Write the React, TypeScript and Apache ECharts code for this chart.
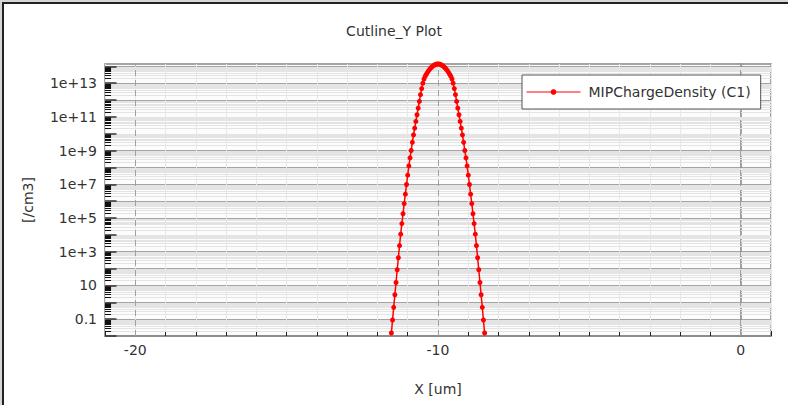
import React, { useEffect, useRef } from 'react';
import * as echarts from 'echarts';

// x positions of the sampled points [um]
const xValues: number[] = [
  -11.540, -11.502, -11.463, -11.425, -11.386, -11.348, -11.309, -11.271, -11.232, -11.194,
  -11.155, -11.117, -11.078, -11.040, -11.001, -10.963, -10.924, -10.886, -10.847, -10.809,
  -10.770, -10.732, -10.693, -10.655, -10.616, -10.578, -10.539, -10.501, -10.462, -10.424,
  -10.385, -10.347, -10.308, -10.270, -10.231, -10.193, -10.154, -10.116, -10.077, -10.039,
  -10.000,
  -9.962, -9.923, -9.885, -9.846, -9.808, -9.769, -9.731, -9.692, -9.654, -9.615,
  -9.577, -9.538, -9.500, -9.461, -9.423, -9.384, -9.346, -9.307, -9.269, -9.230,
  -9.192, -9.153, -9.115, -9.076, -9.038, -8.999, -8.961, -8.922, -8.884, -8.845,
  -8.807, -8.768, -8.730, -8.691, -8.653, -8.614, -8.576, -8.537, -8.499, -8.460,
];

// MIPChargeDensity (C1) values [/cm3]
const yValues: number[] = [
  0.015, 0.089, 0.5, 2.8, 15, 85, 440, 2300, 1.1e4, 4.7e4,
  1.8e5, 7.2e5, 2.6e6, 9.8e6, 3.5e7, 1.23e8, 3.7e8, 1.02e9, 3.1e9, 8.5e9,
  2.14e10, 5.4e10, 1.35e11, 3.3e11, 8.3e11, 2.09e12, 4.8e12, 1.0e13, 1.78e13, 2.63e13,
  3.4e13, 4.4e13, 5.6e13, 6.9e13, 8.3e13, 9.7e13, 1.1e14, 1.21e14, 1.31e14, 1.36e14,
  1.38e14,
  1.36e14, 1.31e14, 1.21e14, 1.1e14, 9.7e13, 8.3e13, 6.9e13, 5.6e13, 4.4e13, 3.4e13,
  2.63e13, 1.78e13, 1.0e13, 4.8e12, 2.09e12, 8.3e11, 3.3e11, 1.35e11, 5.4e10, 2.14e10,
  8.5e9, 3.1e9, 1.02e9, 3.7e8, 1.23e8, 3.5e7, 9.8e6, 2.6e6, 7.2e5, 1.8e5,
  4.7e4, 1.1e4, 2300, 440, 85, 15, 2.8, 0.5, 0.089, 0.015,
];

const seriesName = 'MIPChargeDensity (C1)';
const xLabelValues: number[] = [-20, -10, 0];
const yLabelValues: number[] = [0.1, 10, 1e3, 1e5, 1e7, 1e9, 1e11, 1e13];
const yLabelTexts: string[] = ['0.1', '10', '1e+3', '1e+5', '1e+7', '1e+9', '1e+11', '1e+13'];

const X_MIN = -21;
const X_MAX = 1;
const Y_MIN = 0.01;
const Y_MAX = 1.38e14;

const decadeExponents: number[] = [-2, -1, 0, 1, 2, 3, 4, 5, 6, 7, 8, 9, 10, 11, 12, 13];
const minorMultipliers: number[] = [2, 3, 4, 5, 6, 7, 8, 9];
const majorDecades: number[] = [0.01, 0.1, 1, 10, 100, 1e3, 1e4, 1e5, 1e6, 1e7, 1e8, 1e9, 1e10, 1e11, 1e12, 1e13, 1e14];

export default function App() {
  const ref = useRef<HTMLDivElement>(null);
  useEffect(() => {
    if (!ref.current) return;
    const chart = echarts.init(ref.current, null, { renderer: 'svg' });

    const minorValues: number[] = [];
    decadeExponents.forEach((e) => {
      minorMultipliers.forEach((m) => {
        const v = m * Math.pow(10, e);
        if (v < Y_MAX) minorValues.push(v);
      });
    });

    const minorGridLines = minorValues.map((v) => ({ yAxis: v }));
    const minorTickSegs = minorValues.map((v) => [
      { coord: [X_MIN, v] },
      { coord: [X_MIN + 0.2, v] },
    ]);
    const majorTickSegs = majorDecades.filter((v) => v <= Y_MAX).map((v) => [
      { coord: [X_MIN, v] },
      { coord: [X_MIN + 0.38, v] },
    ]);

    const option: any = {
      animation: false,
      textStyle: { fontFamily: 'DejaVu Sans' },
      title: {
        text: 'Cutline_Y Plot',
        left: 'center',
        top: 19,
        textStyle: { fontSize: 14, fontWeight: 'normal', color: '#333', fontFamily: 'DejaVu Sans' },
      },
      legend: {
        data: [seriesName],
        left: 522,
        top: 75,
        padding: [10, 10, 10, 4],
        itemWidth: 54,
        itemHeight: 7,
        backgroundColor: '#fff',
        borderColor: '#555',
        borderWidth: 1,
        borderRadius: 0,
        lineStyle: { width: 1 },
        textStyle: { fontSize: 14, color: '#333', fontFamily: 'DejaVu Sans', padding: [0, 0, 0, 3] },
      },
      grid: {
        left: 105,
        right: 17,
        top: 64,
        bottom: 69,
        show: true,
        borderColor: '#858585',
        borderWidth: 1.5,
        backgroundColor: '#fcfcfc',
      },
      xAxis: {
        type: 'value',
        min: X_MIN,
        max: X_MAX,
        interval: 1,
        name: 'X [um]',
        nameLocation: 'middle',
        nameGap: 46,
        nameTextStyle: { fontSize: 14, color: '#333' },
        axisLine: { show: true, lineStyle: { color: '#858585', width: 1.5 } },
        axisTick: { show: true, inside: true, length: 5, lineStyle: { color: '#222' } },
        axisLabel: {
          fontSize: 14,
          color: '#333',
          margin: 7,
          showMinLabel: true,
          showMaxLabel: true,
          formatter: (v: number) => (xLabelValues.some((t) => Math.abs(t - v) < 1e-9) ? String(v) : ''),
        },
        splitLine: { show: true, lineStyle: { color: '#e8e8e8', width: 1 } },
      },
      yAxis: {
        type: 'log',
        logBase: 10,
        min: Y_MIN,
        max: Y_MAX,
        interval: 1,
        name: '[/cm3]',
        nameLocation: 'middle',
        nameGap: 70,
        nameTextStyle: { fontSize: 14, color: '#333' },
        axisLine: { show: true, lineStyle: { color: '#858585', width: 1.5 } },
        axisTick: { show: false },
        axisLabel: {
          fontSize: 14,
          color: '#333',
          margin: 8,
          formatter: (v: number) => {
            const idx = yLabelValues.findIndex((t) => Math.abs(Math.log10(t) - Math.log10(v)) < 1e-6);
            return idx >= 0 ? yLabelTexts[idx] : '';
          },
        },
        splitLine: { show: true, lineStyle: { color: '#a4a4a4', width: 1.2 } },
      },
      series: [
        {
          name: 'grid-decor',
          type: 'line',
          data: [],
          z: 1,
          silent: true,
          markLine: {
            silent: true,
            z: 1,
            symbol: ['none', 'none'],
            label: { show: false },
            emphasis: { disabled: true },
            animation: false,
            lineStyle: { color: '#e4e4e4', width: 1, type: 'solid' },
            data: [
              ...minorGridLines,
              ...xLabelValues.map((v) => ({ xAxis: v, lineStyle: { color: '#a0a0a0', type: [6, 4], width: 1 } })),
              ...minorTickSegs.map((seg) => seg.map((p) => ({ ...p, lineStyle: { color: '#111', width: 1, type: 'solid' } }))),
              ...majorTickSegs.map((seg) => seg.map((p) => ({ ...p, lineStyle: { color: '#333', width: 1.5, type: 'solid' } }))),
            ],
          },
        },
        {
          name: seriesName,
          type: 'line',
          z: 3,
          clip: false,
          data: xValues.map((x, i) => [x, yValues[i]]),
          symbol: 'circle',
          symbolSize: 5,
          showSymbol: true,
          itemStyle: { color: '#ff0000' },
          lineStyle: { color: '#ff0000', width: 1.5 },
        },
      ],
    };

    chart.setOption(option);
    return () => chart.dispose();
  }, []);

  return (
    <div style={{ position: 'fixed', left: 0, top: 0, width: 788, height: 405, background: '#d6d6d6', overflow: 'hidden' }}>
      <div style={{ position: 'absolute', left: 4, top: 4, width: 800, height: 420, background: '#fff' }} />
      <div ref={ref} style={{ position: 'absolute', left: 0, top: 0, width: 788, height: 405 }} />
      <div
        style={{
          position: 'absolute',
          left: 2,
          top: 2,
          width: 900,
          height: 500,
          borderLeft: '2px solid #222',
          borderTop: '2px solid #222',
          pointerEvents: 'none',
        }}
      />
    </div>
  );
}
